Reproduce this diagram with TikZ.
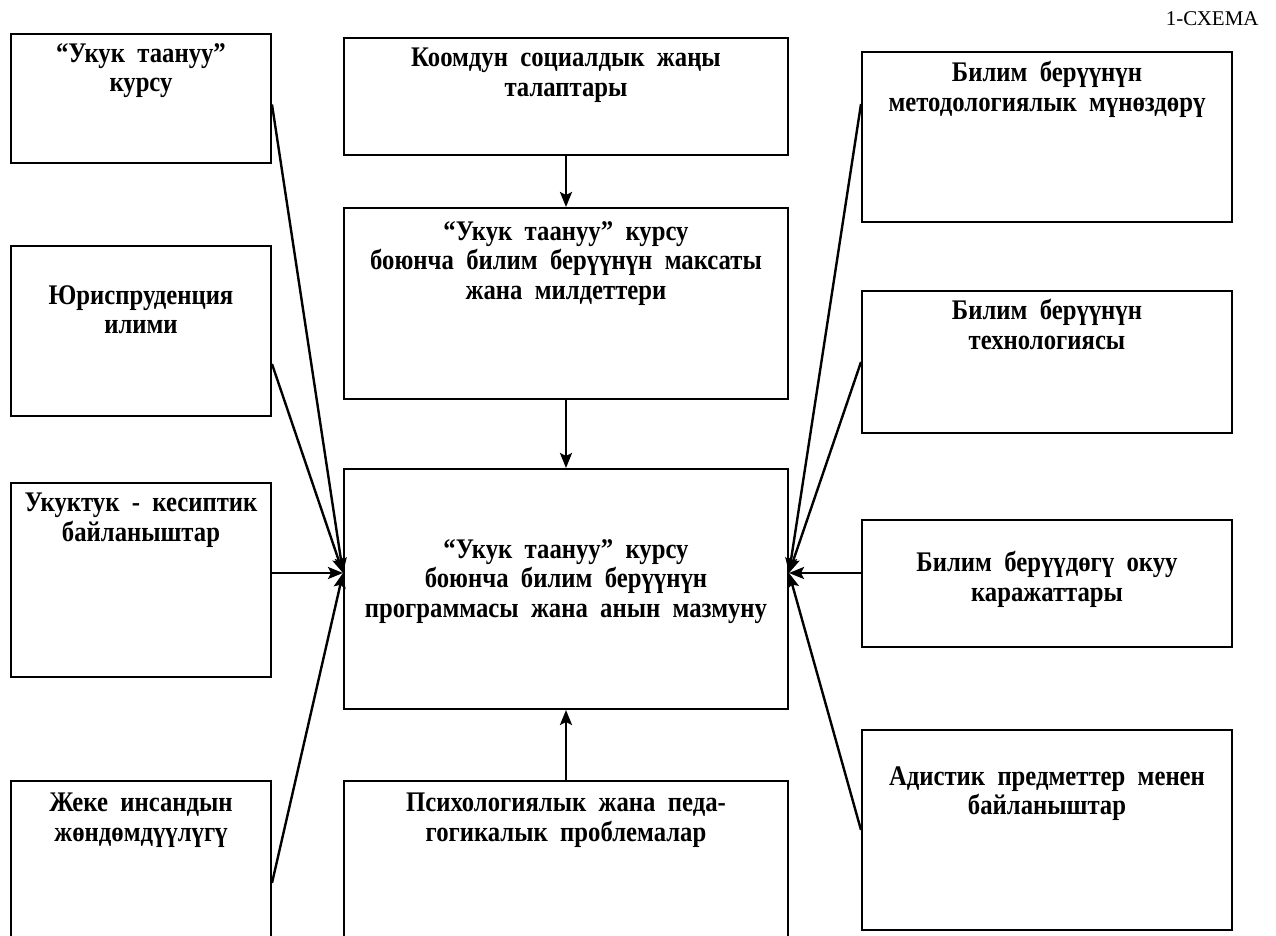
\documentclass[tikz,border=0pt]{standalone}
\usepackage{fontspec}
\setmainfont{Liberation Serif}
\newfontfamily\boxfont{Liberation Serif}[FakeStretch=0.87,WordSpace=2]
\usetikzlibrary{arrows.meta}

\begin{document}
\begin{tikzpicture}[x=0.5pt,y=-0.5pt,
        box/.style={draw,line width=1pt,anchor=north west,inner sep=0pt},
        txt/.style={anchor=north,align=center,inner sep=0pt,font=\boxfont\bfseries\fontsize{14.2}{14.7}\selectfont},
        arr/.style={line width=1.2pt,-{Stealth[length=7.5pt,width=6pt,inset=1.5pt]}}]
        \useasboundingbox (0,0) rectangle (1276,936);
        \node[anchor=base east,inner sep=0pt,font=\fontsize{10.5}{12}\selectfont] (sxema) at (1259,26) {1-СХЕМА};
        % left column
        \node[box,minimum width=130pt,minimum height=64.5pt] (lb1) at (10,33) {};
        \node[box,minimum width=130pt,minimum height=85pt] (lb2) at (10,245) {};
        \node[box,minimum width=130pt,minimum height=97pt] (lb3) at (10,482) {};
        \node[box,minimum width=130pt,minimum height=85pt] (lb4) at (10,780) {};
        \node[txt] (lb1t) at ([yshift=-5pt]lb1.north) {“Укук таануу”\\курсу};
        \node[txt] (lb2t) at ([yshift=-20pt]lb2.north) {Юриспруденция\\илими};
        \node[txt] (lb3t) at ([yshift=-5.5pt]lb3.north) {Укуктук - кесиптик\\байланыштар};
        \node[txt] (lb4t) at ([yshift=-6.5pt]lb4.north) {Жеке инсандын\\жөндөмдүүлүгү};
        % center column
        \node[box,minimum width=222pt,minimum height=58.5pt] (ct1) at (343,37) {};
        \node[box,minimum width=222pt,minimum height=95.5pt] (ct2) at (343,207) {};
        \node[box,minimum width=222pt,minimum height=120pt] (main) at (343,468) {};
        \node[box,minimum width=222pt,minimum height=85pt] (ct4) at (343,780) {};
        \node[txt] (ct1t) at ([yshift=-5.5pt]ct1.north) {Коомдун социалдык жаңы\\талаптары};
        \node[txt] (ct2t) at ([yshift=-7pt]ct2.north) {“Укук таануу” курсу\\боюнча билим берүүнүн максаты\\жана милдеттери};
        \node[txt] (maint) at ([yshift=-35.5pt]main.north) {“Укук таануу” курсу\\боюнча билим берүүнүн\\программасы жана анын мазмуну};
        \node[txt] (ct4t) at ([yshift=-6.5pt]ct4.north) {Психологиялык жана педа-\\гогикалык проблемалар};
        % right column
        \node[box,minimum width=185pt,minimum height=85pt] (rb1) at (861,51) {};
        \node[box,minimum width=185pt,minimum height=71pt] (rb2) at (861,290) {};
        \node[box,minimum width=185pt,minimum height=63.5pt] (rb3) at (861,519) {};
        \node[box,minimum width=185pt,minimum height=100pt] (rb4) at (861,729) {};
        \node[txt] (rb1t) at ([yshift=-5pt]rb1.north) {Билим берүүнүн\\методологиялык мүнөздөрү};
        \node[txt] (rb2t) at ([yshift=-4.5pt]rb2.north) {Билим берүүнүн\\технологиясы};
        \node[txt] (rb3t) at ([yshift=-16pt]rb3.north) {Билим берүүдөгү окуу\\каражаттары};
        \node[txt] (rb4t) at ([yshift=-18.5pt]rb4.north) {Адистик предметтер менен\\байланыштар};
        % arrows
        \coordinate (inL) at ([yshift=8pt]main.west);
        \coordinate (inR) at ([yshift=8pt]main.east);
        \coordinate (l1) at ([yshift=-3pt]lb1.east);
        \coordinate (l2) at ([yshift=-16.5pt]lb2.east);
        \coordinate (l3) at (lb3.east |- inL);
        \coordinate (l4) at ([yshift=-51.5pt]lb4.north east);
        \coordinate (r1) at ([yshift=16.5pt]rb1.west);
        \coordinate (r2) at (rb2.west);
        \coordinate (r3) at (rb3.west |- inR);
        \coordinate (r4) at (rb4.west);
        \draw[arr] (ct1) -- (ct2);
        \draw[arr] (ct2) -- (main);
        \draw[arr] (ct4) -- (main);
        \foreach \s in {l1,l2,l3,l4}
            \draw[arr] (\s) -- (inL);
        \foreach \s in {r1,r2,r3,r4}
            \draw[arr] (\s) -- (inR);
\end{tikzpicture}
\end{document}
